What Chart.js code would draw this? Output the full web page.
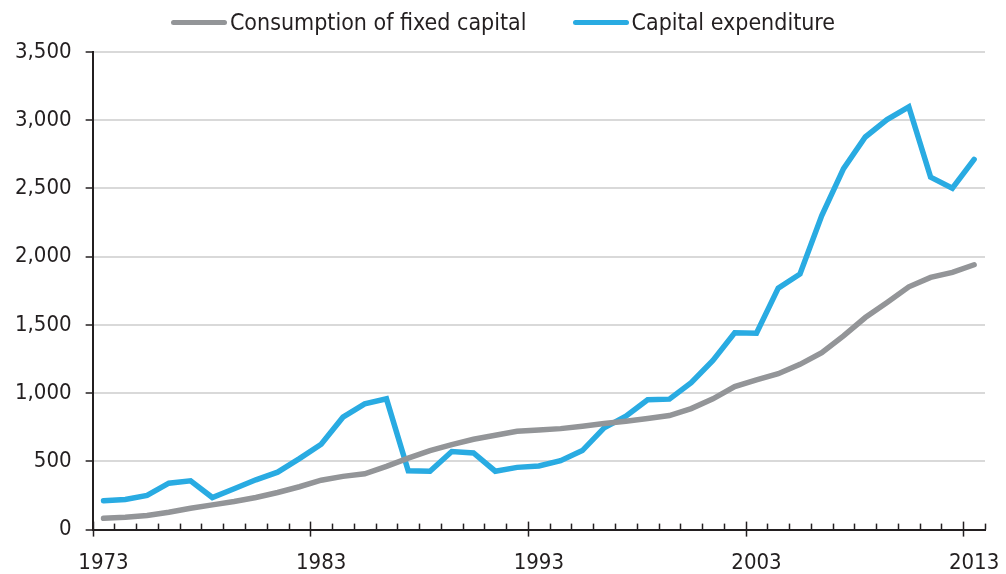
<!DOCTYPE html>
<html>
<head>
<meta charset="utf-8">
<script src="https://cdn.jsdelivr.net/npm/chart.js@4"></script>
<style>
  body { margin: 0; background: #fff; }
  #box { position: relative; width: 1006px; height: 574px; }
  #legenda {
    position: absolute; top: 9px; left: 0; width: 1006px;
    display: flex; justify-content: center; align-items: center;
    font-family: "DejaVu Sans Condensed", "DejaVu Sans", sans-serif;
    font-size: 23px; color: #231f20;
  }
  .voce { display: flex; align-items: center; margin: 0 23px; }
  .linea { width: 56px; height: 5px; border-radius: 3px; margin-right: 3px; }
</style>
</head>
<body>
<div id="box">
  <canvas id="grafico" width="1006" height="574"></canvas>
  <div id="legenda"></div>
</div>
<script>
// anni (categorie)
let anni = [];
for (let a = 1973; a <= 2013; a++) anni.push(a);

// etichette mostrate sull'asse x
let anniEtichetta = [1973, 1983, 1993, 2003, 2013];

// tick asse y
let tickY = [0, 500, 1000, 1500, 2000, 2500, 3000, 3500];

// Consumption of fixed capital
let consumo = [83, 90, 103, 127, 157, 181, 206, 235, 272, 314,
  362, 390, 409, 463, 524, 579, 623, 662, 691, 720,
  730, 740, 757, 777, 794, 814, 836, 887, 958, 1048,
  1098, 1142, 1211, 1296, 1419, 1554, 1664, 1779, 1848, 1885,
  1941];

// Capital expenditure
let spesa = [211, 221, 250, 340, 358, 235, 299, 365, 421, 520,
  625, 824, 921, 958, 431, 428, 572, 562, 428, 456,
  466, 505, 579, 745, 831, 951, 956, 1076, 1240, 1443,
  1439, 1770, 1873, 2301, 2645, 2877, 3005, 3098, 2583, 2502,
  2713];

let serie = [
  { nome: 'Consumption of fixed capital', dati: consumo, colore: '#939598' },
  { nome: 'Capital expenditure', dati: spesa, colore: '#29abe2' }
];

// legenda in HTML
let leg = document.getElementById('legenda');
serie.forEach(s => {
  leg.innerHTML += '<div class="voce"><span class="linea" style="background:' + s.colore +
    '"></span><span>' + s.nome + '</span></div>';
});

// tacche dell'asse x: piccole verso l'interno, grandi ogni 10 anni
const tacche = {
  id: 'tacche',
  afterDraw(chart) {
    let sx = chart.scales.x;
    let ctx = chart.ctx;
    let n = anni.length;
    let passo = (sx.right - sx.left) / n;
    let y0 = sx.top;
    ctx.save();
    ctx.strokeStyle = '#231f20';
    ctx.lineWidth = 1.5;
    for (let i = 0; i <= n; i++) {
      let x = Math.round(sx.left + i * passo) + 0.5;
      ctx.beginPath();
      if (i % 10 === 0) {
        ctx.moveTo(x, y0 - 8);
        ctx.lineTo(x, y0 + 7);
      } else {
        ctx.moveTo(x, y0 - 6);
        ctx.lineTo(x, y0);
      }
      ctx.stroke();
    }
    ctx.restore();
  }
};

const fontAssi = { family: '"DejaVu Sans Condensed", "DejaVu Sans", sans-serif', size: 22 };

new Chart(document.getElementById('grafico'), {
  type: 'line',
  data: {
    labels: anni,
    datasets: serie.map(s => ({
      label: s.nome,
      data: s.dati,
      borderColor: s.colore,
      backgroundColor: s.colore,
      borderWidth: 5.5,
      borderCapStyle: 'round',
      pointRadius: 0,
      tension: 0,
      fill: false
    }))
  },
  options: {
    responsive: false,
    animation: false,
    layout: { padding: { top: 52, left: 1, right: 21, bottom: -2 } },
    plugins: {
      legend: { display: false },
      tooltip: { enabled: false }
    },
    scales: {
      x: {
        type: 'category',
        offset: true,
        grid: {
          display: true,
          drawOnChartArea: false,
          drawTicks: true,
          tickLength: 20,
          tickColor: 'rgba(0,0,0,0)',
          color: 'rgba(0,0,0,0)'
        },
        border: { display: true, color: '#231f20', width: 2 },
        ticks: {
          autoSkip: false,
          maxRotation: 0,
          padding: 0,
          color: '#231f20',
          font: fontAssi,
          callback: function(v, i) {
            return anniEtichetta.includes(anni[i]) ? String(anni[i]) : '';
          }
        }
      },
      y: {
        min: 0,
        max: 3500,
        afterBuildTicks: function(scale) {
          scale.ticks = tickY.map(v => ({ value: v }));
        },
        grid: {
          color: '#d9d9d9',
          lineWidth: 2,
          tickColor: '#231f20',
          tickLength: 7,
          tickWidth: 1.5
        },
        border: { display: true, color: '#231f20', width: 2 },
        ticks: {
          padding: 14,
          color: '#231f20',
          font: fontAssi,
          callback: v => v.toLocaleString('en-US')
        }
      }
    }
  },
  plugins: [tacche]
});
</script>
</body>
</html>
